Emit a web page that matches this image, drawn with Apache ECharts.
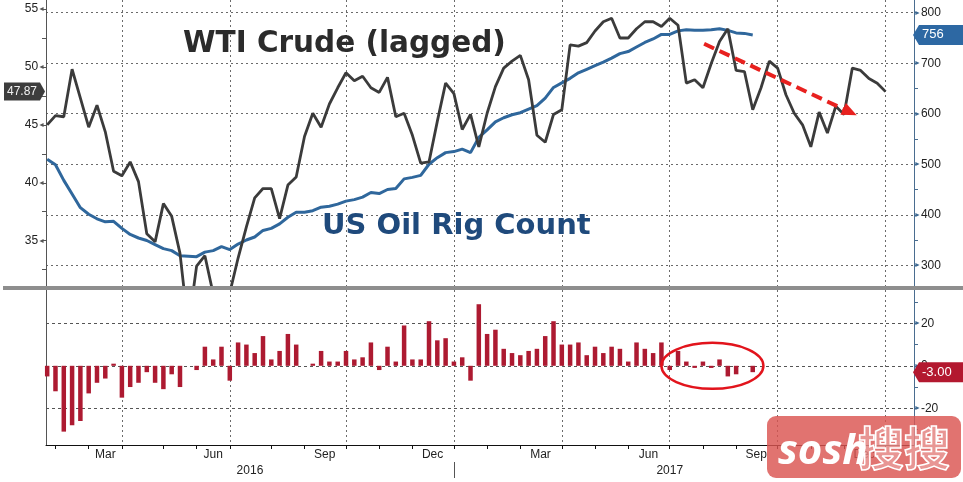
<!DOCTYPE html>
<html>
<head>
<meta charset="utf-8">
<script src="https://cdn.jsdelivr.net/npm/echarts@6/dist/echarts.min.js"></script>
<style>
  html, body { margin: 0; padding: 0; background: #fff; }
  #chart { width: 963px; height: 482px; }
</style>
</head>
<body>
<div id="chart"></div>
<script>
// weekly points (Fridays)
const weeks = [
  '2016-01-29','2016-02-05','2016-02-12','2016-02-19','2016-02-26','2016-03-04','2016-03-11','2016-03-18','2016-03-25',
  '2016-04-01','2016-04-08','2016-04-15','2016-04-22','2016-04-29','2016-05-06','2016-05-13','2016-05-20','2016-05-27',
  '2016-06-03','2016-06-10','2016-06-17','2016-06-24','2016-07-01','2016-07-08','2016-07-15','2016-07-22','2016-07-29',
  '2016-08-05','2016-08-12','2016-08-19','2016-08-26','2016-09-02','2016-09-09','2016-09-16','2016-09-23','2016-09-30',
  '2016-10-07','2016-10-14','2016-10-21','2016-10-28','2016-11-04','2016-11-11','2016-11-18','2016-11-25','2016-12-02',
  '2016-12-09','2016-12-16','2016-12-23','2016-12-30','2017-01-06','2017-01-13','2017-01-20','2017-01-27','2017-02-03',
  '2017-02-10','2017-02-17','2017-02-24','2017-03-03','2017-03-10','2017-03-17','2017-03-24','2017-03-31','2017-04-07',
  '2017-04-14','2017-04-21','2017-04-28','2017-05-05','2017-05-12','2017-05-19','2017-05-26','2017-06-02','2017-06-09',
  '2017-06-16','2017-06-23','2017-06-30','2017-07-07','2017-07-14','2017-07-21','2017-07-28','2017-08-04','2017-08-11',
  '2017-08-18','2017-08-25','2017-09-01','2017-09-08','2017-09-15','2017-09-22','2017-09-29','2017-10-06','2017-10-13',
  '2017-10-20','2017-10-27','2017-11-03','2017-11-10','2017-11-17','2017-11-24','2017-12-01','2017-12-08','2017-12-15',
  '2017-12-22','2017-12-29','2018-01-05'
]

// WTI crude, lagged (left axis)
const wtiLagged = [
  45.0, 45.8, 45.7, 49.8, 47.3, 44.8, 46.7, 44.4, 41.0, 40.6, 41.8, 40.1, 35.6, 34.9, 38.2, 37.1, 33.9, 27.5,
  32.8, 33.7, 30.4, 29.8, 30.5, 33.5, 36.2, 38.7, 39.5, 39.5, 36.9, 39.8, 40.5, 44.0, 46.0, 44.8, 46.8, 48.2,
  49.5, 48.8, 49.2, 48.2, 47.8, 49.1, 45.7, 46.0, 44.1, 41.7, 41.8, 45.3, 48.6, 47.7, 44.6, 45.9, 43.1, 46.0,
  48.3, 49.9, 50.5, 51.0, 48.9, 44.1, 43.5, 45.9, 46.3, 51.9, 51.8, 52.1, 53.1, 53.9, 54.2, 52.5, 52.5, 53.3,
  53.9, 53.9, 53.5, 54.2, 53.6, 48.6, 48.9, 48.2, 50.3, 52.2, 53.3, 49.7, 49.6, 46.3, 48.2, 50.5, 49.9, 47.6,
  46.0, 45.0, 43.1, 46.1, 44.3, 46.6, 45.9, 49.9, 49.7, 49.0, 48.6, 47.87
]

// US oil rig count (right axis)
const rigCount = [
  510, 499, 468, 441, 414, 401, 392, 386, 387, 373, 361, 354, 349, 341, 333, 329, 319, 318, 317, 326,
  329, 337, 331, 342, 350, 356, 369, 373, 382, 395, 405, 405, 408, 415, 417, 421, 427, 430, 435, 444,
  442, 450, 452, 471, 474, 478, 500, 513, 523, 525, 530, 523, 553, 568, 584, 592, 598, 602, 609, 616,
  631, 652, 661, 670, 681, 688, 695, 702, 710, 719, 723, 732, 741, 748, 757, 757, 764, 766, 765, 765,
  766, 768, 765, 760, 759, 756
]

// weekly change in rig count (lower panel)
const rigChange = [
  -5, -12, -31, -28, -26, -13, -8, -6, 1, -15, -10, -8, -3, -8, -11, -4, -10, 0, -2, 9,
  3, 9, -7, 11, 10, 6, 14, 3, 7, 15, 10, 0, 1, 7, 2, 2, 7, 3, 4, 11,
  -2, 9, 2, 19, 3, 3, 21, 12, 13, 2, 4, -7, 29, 15, 17, 8, 6, 5, 7, 8,
  14, 21, 10, 10, 11, 5, 9, 6, 9, 8, 2, 11, 8, 6, 11, -2, 7, 2, -1, 2,
  -1, 3, -5, -4, 0, -3
]

// axes
const xStart = '2016-01-28'
const xEnd = '2018-01-29'
const monthTicks = [
  '2016-02-05','2016-03-04','2016-04-01','2016-05-06','2016-06-03','2016-07-01','2016-08-05','2016-09-02',
  '2016-10-07','2016-11-04','2016-12-02','2017-01-06','2017-02-03','2017-03-03','2017-04-07','2017-05-05',
  '2017-06-02','2017-07-07','2017-08-04','2017-09-01','2017-10-06','2017-11-03','2017-12-01','2018-01-05'
]
const quarterStarts = ['2016-04-01','2016-07-01','2016-10-07','2017-01-06','2017-04-07','2017-07-07','2017-10-06','2018-01-05']
const monthLabelDates = ['2016-03-18','2016-06-17','2016-09-19','2016-12-19','2017-03-20','2017-06-19','2017-09-18','2017-12-18']
const monthLabelNames = ['Mar','Jun','Sep','Dec','Mar','Jun','Sep','Dec']
const yearLabelDates = ['2016-07-18','2017-07-07']
const yearLabelNames = ['2016','2017']
const yearBreak = ['2017-01-06']

const wtiTicks = [32.5, 35, 37.5, 40, 42.5, 45, 47.5, 50, 52.5, 55]
const wtiLabels = [35, 40, 45, 50, 55]
const rigTicks = [300, 350, 400, 450, 500, 550, 600, 650, 700, 750, 800]
const rigLabels = [300, 400, 500, 600, 700, 800]
const changeTicks = [-30, -20, -10, 0, 10, 20, 30]
const changeLabels = [-20, 0, 20]

// annotations
const trendArrow = [['2017-08-05', 52.0], ['2017-12-06', 46.1]]
const circledWeeks = { center: ['2017-08-12', 0], rx: 51, ry: 23 }

const t = (d) => echarts.time.parse(d).getTime()
const nearest = (list, names, v) => {
  const i = list.findIndex((d) => Math.abs(t(d) - v) < 86400000)
  return i < 0 ? '' : names[i]
}

const FONT = '"Liberation Sans", Arial, sans-serif'
const dotted = { color: '#6b6b6b', width: 1, type: [2, 3] }

const chart = echarts.init(document.getElementById('chart'))

// x axes are plain value axes holding timestamps
const dateAxis = (grid, extra) => Object.assign({
  type: 'value',
  gridIndex: grid,
  position: 'bottom',
  min: t(xStart),
  max: t(xEnd),
  axisLine: { show: false, onZero: false },
  axisTick: { show: false },
  axisLabel: { show: false },
  splitLine: { show: false },
}, extra)

const option = {
  animation: false,
  backgroundColor: '#fff',
  textStyle: { fontFamily: FONT },
  grid: [
    { left: 46, top: 0, width: 868, height: 287, containLabel: false, outerBoundsMode: 'none' },
    { left: 46, top: 290, width: 868, height: 155, containLabel: false, outerBoundsMode: 'none' },
  ],
  xAxis: [
    // top panel vertical grid
    dateAxis(0, {
      axisTick: { show: false, customValues: quarterStarts.map(t) },
      splitLine: { show: true, lineStyle: dotted },
    }),
    // bottom panel month ticks and labels
    dateAxis(1, {
      axisLine: { show: true, onZero: false, lineStyle: { color: '#111', width: 1 } },
      axisTick: { show: true, length: 4, customValues: monthTicks.map(t), lineStyle: { color: '#111' } },
      axisLabel: {
        show: true,
        customValues: monthLabelDates.map(t),
        formatter: (v) => nearest(monthLabelDates, monthLabelNames, v),
        margin: 4,
        color: '#222',
        fontSize: 12,
        fontFamily: FONT,
      },
    }),
    // year labels + year separator
    dateAxis(1, {
      offset: 17,
      axisTick: { show: true, length: 16, customValues: yearBreak.map(t), lineStyle: { color: '#555' } },
      axisLabel: {
        show: true,
        customValues: yearLabelDates.map(t),
        formatter: (v) => nearest(yearLabelDates, yearLabelNames, v),
        margin: 3,
        color: '#222',
        fontSize: 12,
        fontFamily: FONT,
      },
    }),
    // bottom panel vertical grid
    dateAxis(1, {
      axisTick: { show: false, customValues: quarterStarts.map(t) },
      splitLine: { show: true, lineStyle: dotted },
    }),
  ],
  yAxis: [
    {
      type: 'value',
      gridIndex: 0,
      position: 'left',
      min: 31.0,
      max: 55.78,
      axisLine: { show: true, onZero: false, lineStyle: { color: '#555' } },
      axisTick: { show: true, length: 4, customValues: wtiTicks, lineStyle: { color: '#555' } },
      axisLabel: {
        customValues: wtiLabels,
        margin: 1,
        formatter: (v) => '{v|' + v + '}{a|◄}',
        rich: {
          v: { fontSize: 12, color: '#222', fontFamily: FONT },
          a: { fontSize: 7, color: '#555', fontFamily: FONT },
        },
      },
      splitLine: { show: false },
    },
    {
      type: 'value',
      gridIndex: 0,
      position: 'right',
      min: 257,
      max: 825.1,
      axisLine: { show: true, onZero: false, lineStyle: { color: '#4a6d90' } },
      axisTick: { show: true, length: 4, customValues: rigTicks, lineStyle: { color: '#4a6d90' } },
      axisLabel: {
        customValues: rigLabels,
        margin: 0,
        formatter: (v) => '{a|►}{v|' + v + '}',
        rich: {
          v: { fontSize: 12, color: '#222', fontFamily: FONT },
          a: { fontSize: 7, color: '#3f6a93', fontFamily: FONT },
        },
      },
      splitLine: { show: false },
    },
    {
      type: 'value',
      gridIndex: 0,
      position: 'right',
      min: 257,
      max: 825.1,
      axisLine: { show: false, onZero: false },
      axisTick: { show: false, customValues: rigLabels },
      axisLabel: { show: false },
      splitLine: { show: true, lineStyle: dotted },
    },
    {
      type: 'value',
      gridIndex: 1,
      position: 'right',
      min: -37.3,
      max: 35.7,
      axisLine: { show: true, onZero: false, lineStyle: { color: '#4a6d90' } },
      axisTick: { show: true, length: 4, customValues: changeTicks, lineStyle: { color: '#4a6d90' } },
      axisLabel: {
        customValues: changeLabels,
        margin: 0,
        formatter: (v) => '{a|►}{v|' + v + '}',
        rich: {
          v: { fontSize: 12, color: '#222', fontFamily: FONT },
          a: { fontSize: 7, color: '#3f6a93', fontFamily: FONT },
        },
      },
      splitLine: { show: false },
    },
    {
      type: 'value',
      gridIndex: 1,
      position: 'left',
      min: -37.3,
      max: 35.7,
      axisLine: { show: true, onZero: false, lineStyle: { color: '#555' } },
      axisTick: { show: false, customValues: changeLabels },
      axisLabel: { show: false },
      splitLine: { show: true, lineStyle: { color: '#555', width: 1, type: [3, 3] } },
    },
  ],
  series: [
    {
      name: 'US Oil Rig Count',
      type: 'line',
      xAxisIndex: 0,
      yAxisIndex: 1,
      data: rigCount.map((v, i) => [t(weeks[i]), v]),
      showSymbol: false,
      lineStyle: { color: '#2f679c', width: 3 },
      z: 3,
    },
    {
      name: 'WTI Crude (lagged)',
      type: 'line',
      xAxisIndex: 0,
      yAxisIndex: 0,
      data: wtiLagged.map((v, i) => [t(weeks[i]), v]),
      showSymbol: false,
      lineStyle: { color: '#3b3b3b', width: 2.8 },
      z: 4,
      markLine: {
        silent: true,
        symbol: ['none', 'triangle'],
        symbolSize: [13, 15],
        label: { show: false },
        lineStyle: { color: '#e8211f', width: 4, type: [11, 6] },
        itemStyle: { color: '#e8211f' },
        data: [[
          { coord: [t(trendArrow[0][0]), trendArrow[0][1]] },
          { coord: [t(trendArrow[1][0]), trendArrow[1][1]] },
        ]],
      },
    },
    {
      name: 'Weekly change',
      type: 'bar',
      xAxisIndex: 1,
      yAxisIndex: 3,
      data: rigChange.map((v, i) => [t(weeks[i]), v]),
      barWidth: 4.5,
      itemStyle: { color: '#ad1a31' },
      z: 3,
    },
  ],
}

chart.setOption(option)

// value tags on the axes, placed with the library's own scales
const lastWti = wtiLagged[wtiLagged.length - 1]
const lastRig = rigCount[rigCount.length - 1]
const lastChange = rigChange[rigChange.length - 1]
const yWti = chart.convertToPixel({ yAxisIndex: 0 }, lastWti)
const yRig = chart.convertToPixel({ yAxisIndex: 1 }, lastRig)
const yChg = chart.convertToPixel({ yAxisIndex: 3 }, lastChange)
const ell = chart.convertToPixel({ xAxisIndex: 1, yAxisIndex: 3 }, [t(circledWeeks.center[0]), circledWeeks.center[1]])

const rightTag = (y, fill, text) => [
  {
    type: 'polygon',
    z: 100,
    shape: { points: [[913, y], [919, y - 10], [963, y - 10], [963, y + 10], [919, y + 10]] },
    style: { fill },
  },
  {
    type: 'text',
    z: 101,
    x: 922,
    y,
    style: { text, fill: '#fff', font: '13px ' + FONT, align: 'left', verticalAlign: 'middle' },
  },
]

chart.setOption({
  graphic: [
    // panel separator
    { type: 'rect', z: 50, shape: { x: 3, y: 286, width: 960, height: 4 }, style: { fill: '#8e8e8e' } },
    {
      type: 'text', z: 60, x: 183, y: 44,
      style: { text: 'WTI Crude (lagged)', fill: '#2b2b2b', font: 'bold 29.5px "DejaVu Sans"', verticalAlign: 'middle' },
    },
    {
      type: 'text', z: 60, x: 322, y: 226,
      style: { text: 'US Oil Rig Count', fill: '#1f4a7c', font: 'bold 29px "DejaVu Sans"', verticalAlign: 'middle' },
    },
    {
      type: 'polygon', z: 100,
      shape: { points: [[4, yWti - 9], [40, yWti - 9], [45, yWti], [40, yWti + 9], [4, yWti + 9]] },
      style: { fill: '#3d3d3d' },
    },
    {
      type: 'text', z: 101, x: 22, y: yWti,
      style: { text: lastWti.toFixed(2), fill: '#f2f2f2', font: '12px ' + FONT, align: 'center', verticalAlign: 'middle' },
    },
    ...rightTag(yRig, '#2d68a3', String(lastRig)),
    ...rightTag(yChg, '#b3182f', lastChange.toFixed(2)),
    {
      type: 'ellipse', z: 90,
      shape: { cx: ell[0], cy: ell[1], rx: circledWeeks.rx, ry: circledWeeks.ry },
      style: { fill: 'none', stroke: '#e2141c', lineWidth: 2.5 },
    },
    // source watermark
    {
      type: 'rect', z: 110,
      shape: { x: 767, y: 416, width: 194, height: 62, r: 9 },
      style: { fill: 'rgba(218, 84, 80, 0.82)' },
    },
    {
      type: 'text', z: 111, x: 778, y: 452,
      style: { text: 'sosh', fill: '#fff', font: 'italic bold 42px "Open Sans"', verticalAlign: 'middle' },
    },
    {
      type: 'text', z: 111, x: 858, y: 448,
      style: {
        text: '搜搜', fill: 'rgba(255,255,255,0.25)', stroke: '#fff', lineWidth: 1.6,
        font: 'bold 46px "Noto Sans CJK SC"', verticalAlign: 'middle',
      },
    },
  ],
})
</script>
</body>
</html>
